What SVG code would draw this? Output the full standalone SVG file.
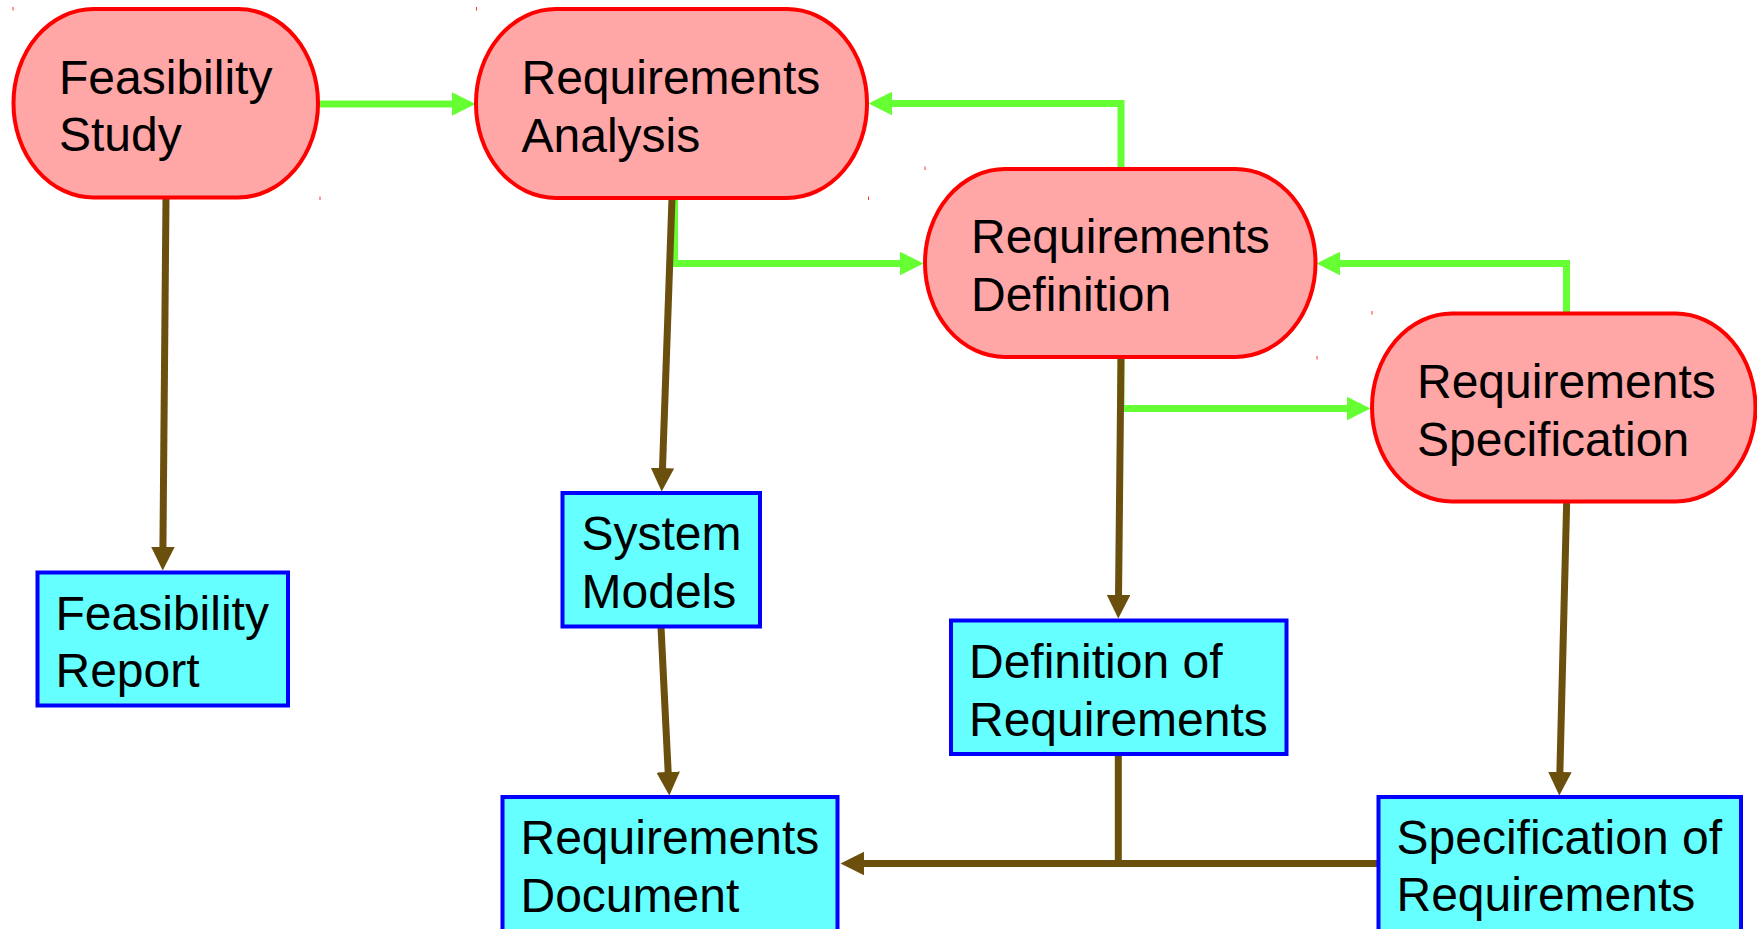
<svg xmlns="http://www.w3.org/2000/svg" width="1757" height="929" viewBox="0 0 1757 929">
  <style>
    .proc { fill: #ffa6a6; stroke: #ff0000; stroke-width: 4; }
    .doc { fill: #66ffff; stroke: #0000ff; stroke-width: 4; }
    .lbl { font-family: "Liberation Sans", Arial, sans-serif; font-size: 48px; fill: #000000; }
    .flow { fill: none; stroke: #66ff33; stroke-width: 7; }
    .prod { fill: none; stroke: #6b4f0c; stroke-width: 7; }
    .tick { fill: #ff3030; }
  </style>
  <defs>
    <marker id="ahG" markerUnits="userSpaceOnUse" markerWidth="24" markerHeight="24" refX="3" refY="11.75" orient="auto">
      <path d="M0,0 L23.5,11.75 L0,23.5 z" fill="#66ff33"/>
    </marker>
    <marker id="ahB" markerUnits="userSpaceOnUse" markerWidth="24" markerHeight="24" refX="3" refY="11.75" orient="auto">
      <path d="M0,0 L23.5,11.75 L0,23.5 z" fill="#6b4f0c"/>
    </marker>
  </defs>
  <rect width="1757" height="929" fill="#ffffff"/>

  <g id="connectors">
    <path class="flow" d="M318,104 H455" marker-end="url(#ahG)"/>
    <path class="flow" d="M1121,169 V103.5 H889" marker-end="url(#ahG)"/>
    <path class="flow" d="M674.5,198 V263.5 H903" marker-end="url(#ahG)"/>
    <path class="flow" d="M1566.5,313 V263.5 H1337" marker-end="url(#ahG)"/>
    <path class="flow" d="M1121,357 V408.5 H1350" marker-end="url(#ahG)"/>

    <path class="prod" d="M166,197 L162.9,550" marker-end="url(#ahB)"/>
    <path class="prod" d="M672,198 L662.4,471" marker-end="url(#ahB)"/>
    <path class="prod" d="M661,627 L668.3,775" marker-end="url(#ahB)"/>
    <path class="prod" d="M1121,357 L1118.5,598" marker-end="url(#ahB)"/>
    <path class="prod" d="M1566.7,501 L1559.8,775" marker-end="url(#ahB)"/>
    <path class="prod" d="M1118.3,755 V863.5"/>
    <path class="prod" d="M1377,863.5 H861" marker-end="url(#ahB)"/>
  </g>

  <g id="feasibility-study">
    <rect class="proc" x="13.5" y="9" width="304.5" height="188.5" rx="80" ry="94"/>
    <text class="lbl"><tspan x="59" y="94.3">Feasibility</tspan><tspan x="59" y="151">Study</tspan></text>
  </g>
  <g id="requirements-analysis">
    <rect class="proc" x="476" y="9" width="391" height="189" rx="80" ry="94"/>
    <text class="lbl"><tspan x="521.5" y="94">Requirements</tspan><tspan x="521.5" y="151.5">Analysis</tspan></text>
  </g>
  <g id="requirements-definition">
    <rect class="proc" x="925" y="169" width="390.5" height="188" rx="80" ry="94"/>
    <text class="lbl"><tspan x="971" y="253.3">Requirements</tspan><tspan x="971" y="310.7">Definition</tspan></text>
  </g>
  <g id="requirements-specification">
    <rect class="proc" x="1372" y="313.5" width="383.5" height="188" rx="80" ry="94"/>
    <text class="lbl"><tspan x="1417" y="398.3">Requirements</tspan><tspan x="1417" y="455.7">Specification</tspan></text>
  </g>

  <g id="feasibility-report">
    <rect class="doc" x="37.5" y="572.5" width="250.5" height="133"/>
    <text class="lbl"><tspan x="55.5" y="630">Feasibility</tspan><tspan x="55.5" y="687.3">Report</tspan></text>
  </g>
  <g id="system-models">
    <rect class="doc" x="562.5" y="493" width="197.5" height="133.5"/>
    <text class="lbl"><tspan x="581.5" y="550">System</tspan><tspan x="581.5" y="608">Models</tspan></text>
  </g>
  <g id="requirements-document">
    <rect class="doc" x="502.5" y="797" width="335" height="150"/>
    <text class="lbl"><tspan x="520.5" y="854">Requirements</tspan><tspan x="520.5" y="911.5">Document</tspan></text>
  </g>
  <g id="definition-of-requirements">
    <rect class="doc" x="951" y="620.5" width="335.5" height="133.5"/>
    <text class="lbl"><tspan x="969" y="678.3">Definition of</tspan><tspan x="969" y="736">Requirements</tspan></text>
  </g>
  <g id="specification-of-requirements">
    <rect class="doc" x="1378.5" y="797" width="362.5" height="150"/>
    <text class="lbl"><tspan x="1396.5" y="854">Specification of</tspan><tspan x="1396.5" y="910.7">Requirements</tspan></text>
  </g>

  <g id="marks">
    <rect class="tick" x="12.5" y="7" width="1" height="3.5"/>
    <rect class="tick" x="319.5" y="196.5" width="1" height="3.5"/>
    <rect class="tick" x="476" y="7" width="1" height="3.5"/>
    <rect class="tick" x="868" y="196.5" width="1" height="3.5"/>
    <rect class="tick" x="924.5" y="166.5" width="1" height="3.5"/>
    <rect class="tick" x="1316.5" y="356" width="1" height="3.5"/>
    <rect class="tick" x="1371.5" y="311" width="1" height="3.5"/>
  </g>
</svg>
